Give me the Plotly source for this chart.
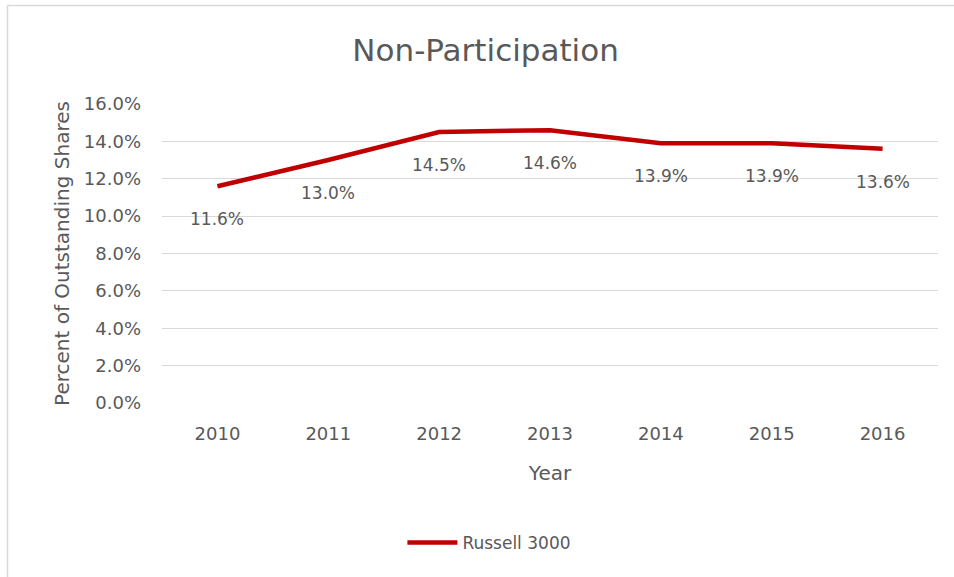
import plotly.graph_objects as go

years = ["2010", "2011", "2012", "2013", "2014", "2015", "2016"]
russell_3000 = [11.6, 13.0, 14.5, 14.6, 13.9, 13.9, 13.6]
label_text = ["11.6%", "13.0%", "14.5%", "14.6%", "13.9%", "13.9%", "13.6%"]
y_ticks = [0, 2, 4, 6, 8, 10, 12, 14, 16]
y_tick_text = ["0.0%", "2.0%", "4.0%", "6.0%", "8.0%", "10.0%", "12.0%", "14.0%", "16.0%"]

W, H = 954, 577
L, R, T, B = 162, 16, 104, 174
TXT = "#595959"
FONT = "DejaVu Sans"

fig = go.Figure()
fig.add_trace(go.Scatter(
    x=years, y=russell_3000, mode="lines", name="Russell 3000",
    line=dict(color="#C00000", width=4.5),
))

for i, (yv, t) in enumerate(zip(russell_3000, label_text)):
    fig.add_annotation(x=i, y=yv, text=t, showarrow=False, yshift=-33,
                       xanchor="center", yanchor="middle",
                       font=dict(family=FONT, size=17, color=TXT))

pw = W - L - R
ph = H - T - B
bx = (7.5 - L) / pw
by = (H - B - 5.5) / ph
fig.add_shape(type="line", xref="paper", yref="paper", x0=bx, x1=bx,
              y0=by, y1=(H - B - H) / ph, line=dict(color="#D9D9D9", width=1.5))
fig.add_shape(type="line", xref="paper", yref="paper", x0=bx, x1=(W - L) / pw,
              y0=by, y1=by, line=dict(color="#D9D9D9", width=1.5))

fig.update_layout(
    width=W, height=H,
    margin=dict(l=L, r=R, t=T, b=B),
    paper_bgcolor="white", plot_bgcolor="white",
    font=dict(family=FONT, color=TXT),
    title=dict(text="Non-Participation", x=0.509, xanchor="center",
               y=1 - 50 / H, yanchor="middle", xref="container", yref="container",
               font=dict(family=FONT, size=31, color=TXT)),
    showlegend=True,
    legend=dict(orientation="h", xref="container", yref="container",
                x=0.513, xanchor="center", y=1 - 543 / H, yanchor="middle",
                font=dict(family=FONT, size=17, color=TXT), itemwidth=50),
    xaxis=dict(type="category", range=[-0.5, 6.5], showgrid=False, showline=False,
               zeroline=False, ticks="", ticklabelstandoff=18,
               tickfont=dict(family=FONT, size=18, color=TXT),
               title=dict(text="Year", standoff=22,
                          font=dict(family=FONT, size=20, color=TXT))),
    yaxis=dict(range=[0, 16], tickmode="array", tickvals=y_ticks, ticktext=y_tick_text,
               showgrid=True, gridcolor="#D9D9D9", gridwidth=1.3,
               zeroline=False, showline=False, ticks="", ticklabelstandoff=20,
               tickfont=dict(family=FONT, size=18, color=TXT),
               title=dict(text="Percent of Outstanding Shares", standoff=8,
                          font=dict(family=FONT, size=20, color=TXT))),
)

fig.write_html("out.html", config={"displayModeBar": False},
               post_script="document.body.style.margin='0';document.body.style.overflow='hidden';")
